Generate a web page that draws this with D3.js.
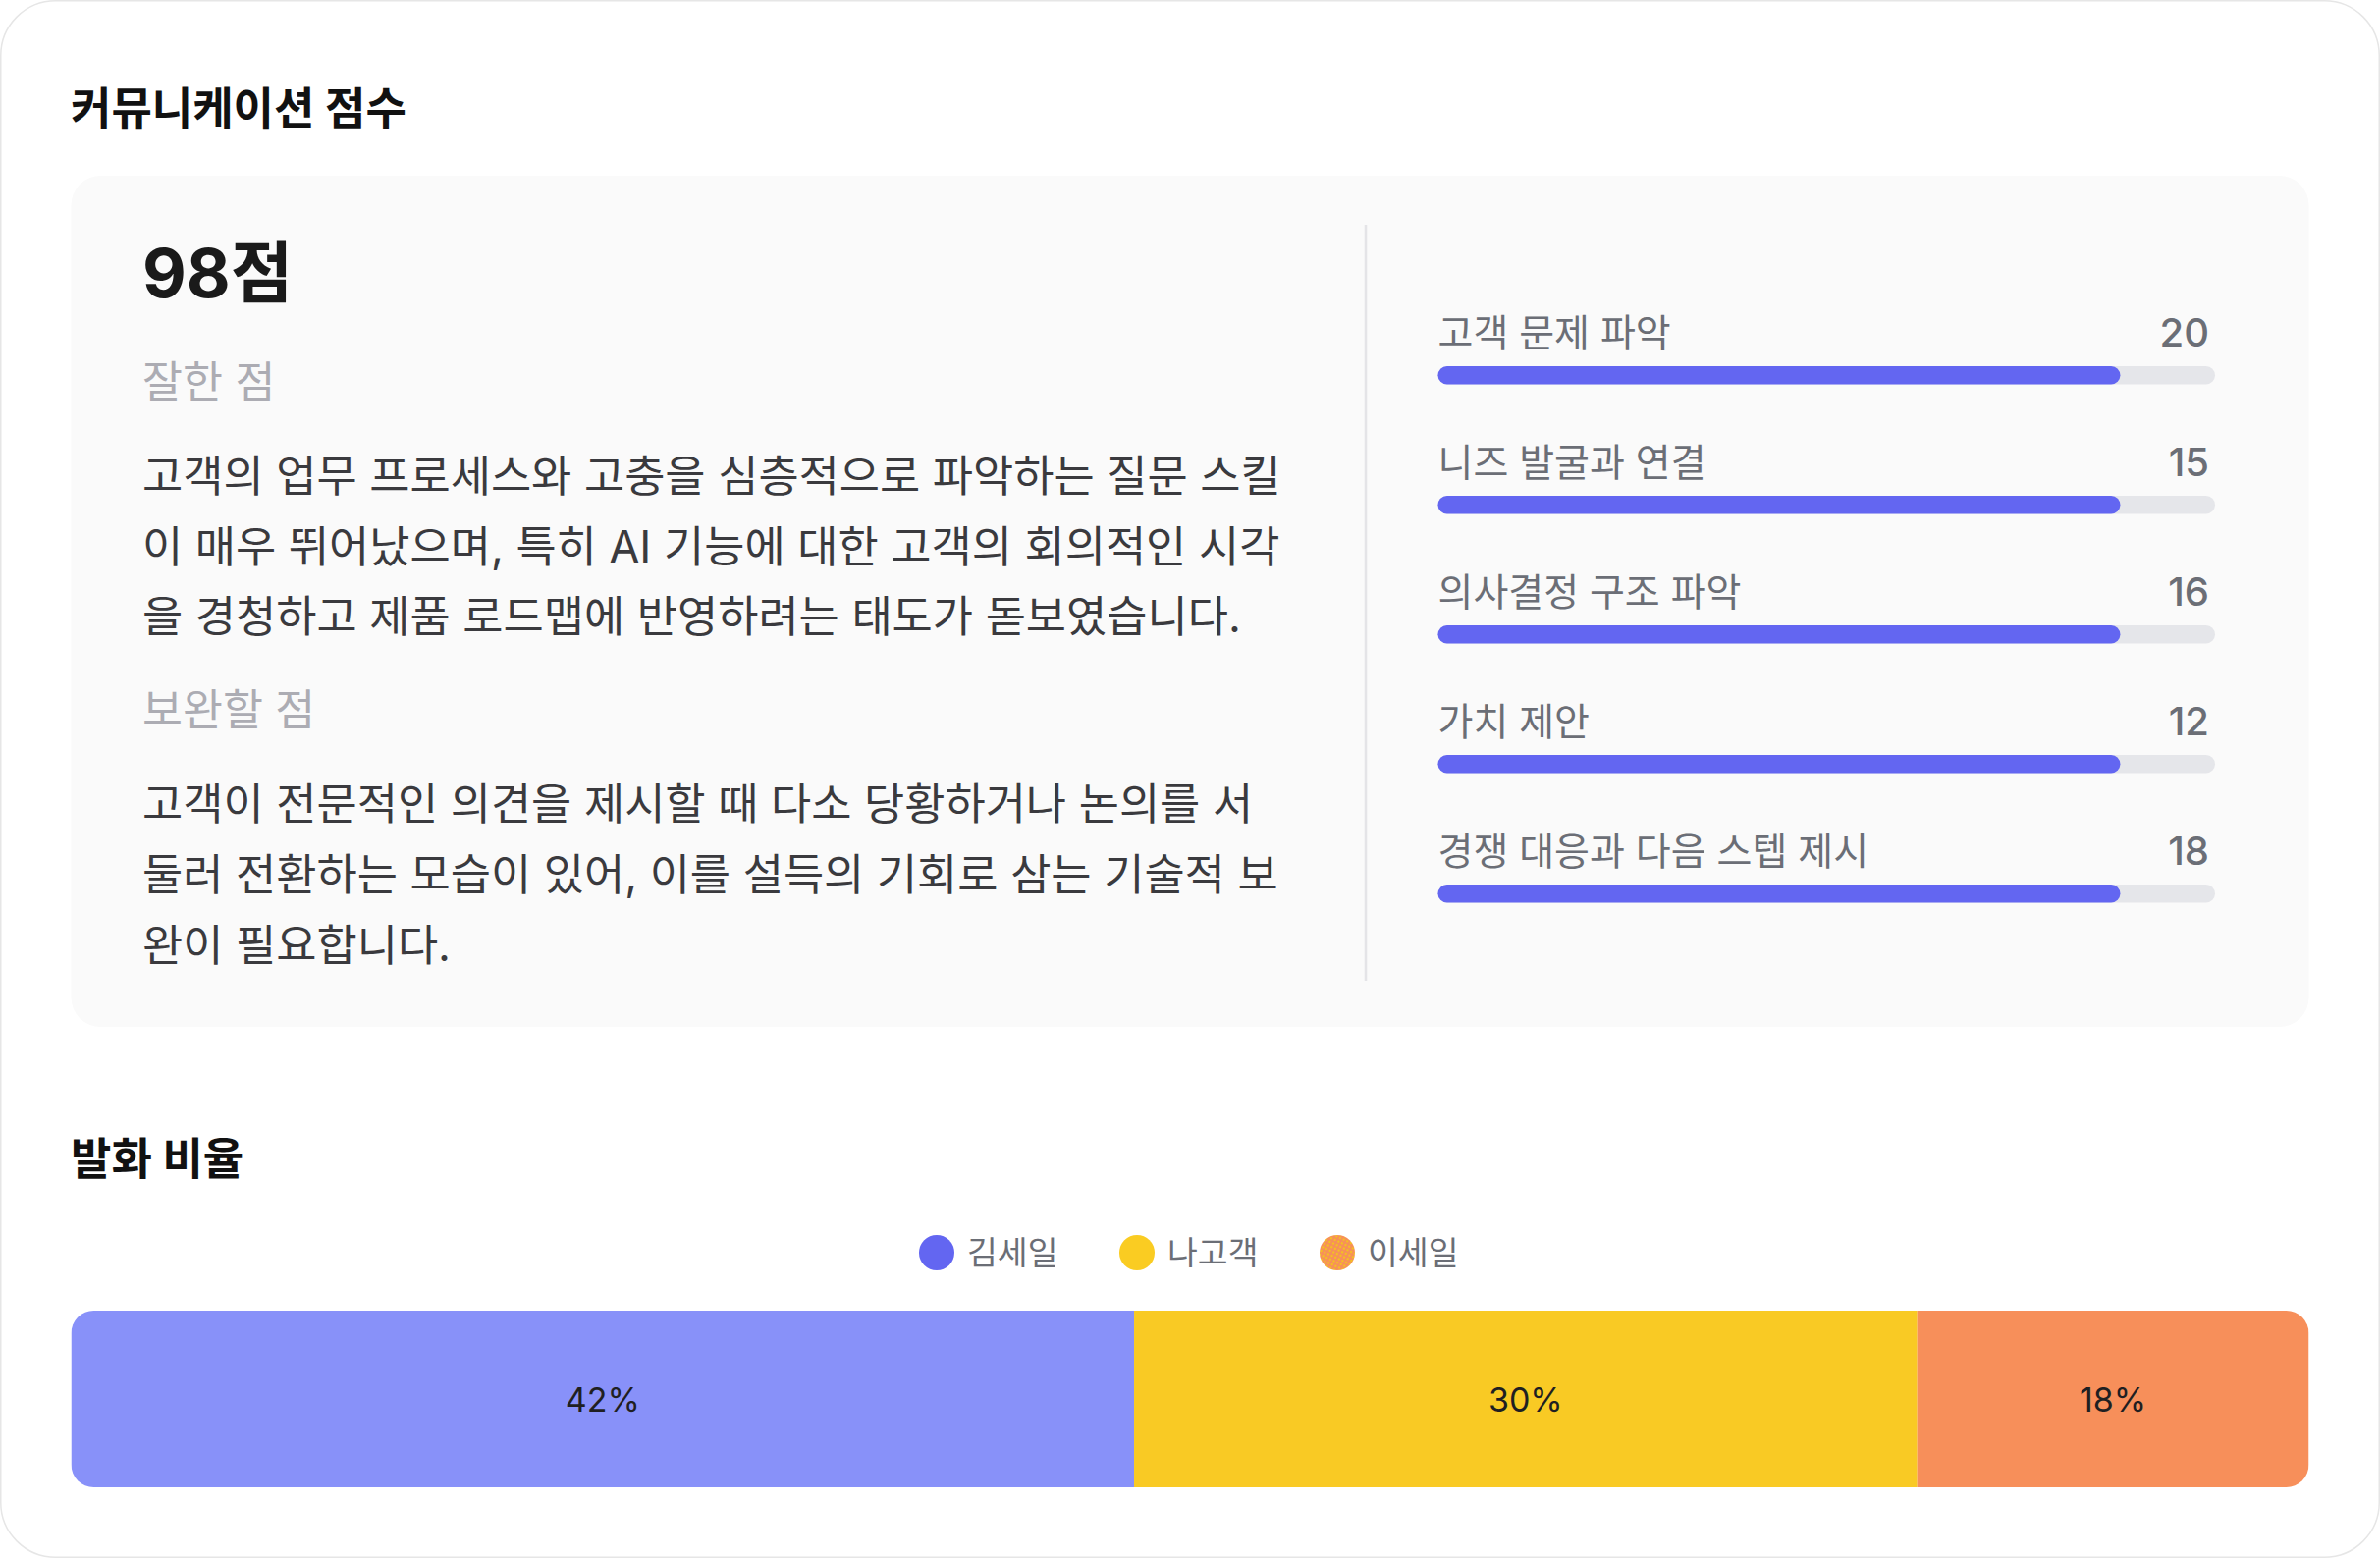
<!DOCTYPE html>
<html lang="ko">
<head>
<meta charset="utf-8">
<script src="https://cdn.jsdelivr.net/npm/d3@7/dist/d3.min.js"></script>
<style>
  html, body { margin: 0; padding: 0; background: #ffffff; }
  svg { display: block; }
  text { font-family: "Inter", "Noto Sans CJK KR", "Noto Sans", sans-serif; }
</style>
</head>
<body>
<div id="chart"></div>
<script>
// ---------------- data ----------------
const sectionTitles = ["커뮤니케이션 점수", "발화 비율"];
const totalScoreLabel = "98점";
const goodHeading = "잘한 점";
const goodLines = [
  "고객의 업무 프로세스와 고충을 심층적으로 파악하는 질문 스킬",
  "이 매우 뛰어났으며, 특히 AI 기능에 대한 고객의 회의적인 시각",
  "을 경청하고 제품 로드맵에 반영하려는 태도가 돋보였습니다."
];
const improveHeading = "보완할 점";
const improveLines = [
  "고객이 전문적인 의견을 제시할 때 다소 당황하거나 논의를 서",
  "둘러 전환하는 모습이 있어, 이를 설득의 기회로 삼는 기술적 보",
  "완이 필요합니다."
];
const scoreCategories = ["고객 문제 파악", "니즈 발굴과 연결", "의사결정 구조 파악", "가치 제안", "경쟁 대응과 다음 스텝 제시"];
const scoreValues = [20, 15, 16, 12, 18];
// filled share of each progress track (percent of track)
const scoreBarFill = [87.8, 87.8, 87.8, 87.8, 87.8];
const scoreTrackDomain = [0, 100];

const speakers = ["김세일", "나고객", "이세일"];
const talkPercent = [42, 30, 18];
// visual width share of each segment
const talkBarShare = [47.5, 35, 17.5];
const speakerColors = ["#8891f9", "#f9ca24", "#f78f5a"];
const legendColors = ["#6366f1", "#facc22", "url(#decal)"];

// ---------------- layout ----------------
const W = 2424, H = 1587;

const svg = d3.select("#chart").append("svg")
  .attr("width", W).attr("height", H)
  .attr("viewBox", `0 0 ${W} ${H}`);

const defs = svg.append("defs");
const pat = defs.append("pattern")
  .attr("id", "decal").attr("patternUnits", "userSpaceOnUse")
  .attr("width", 4).attr("height", 4)
  .attr("patternTransform", "rotate(25)");
pat.append("rect").attr("width", 4).attr("height", 4).attr("fill", "#f78f5a");
pat.append("circle").attr("cx", 2).attr("cy", 2).attr("r", 1.2).attr("fill", "#f3c21e");

// outer card
svg.append("rect")
  .attr("x", 0.75).attr("y", 0.75).attr("width", W - 1.5).attr("height", H - 1.5)
  .attr("rx", 56).attr("fill", "#ffffff").attr("stroke", "#e6e6e6").attr("stroke-width", 1.5);

// section title 1
svg.append("text")
  .attr("x", 72).attr("y", 110).attr("dominant-baseline", "central")
  .attr("font-size", 45).attr("font-weight", 700).attr("fill", "#111111")
  .text(sectionTitles[0]);

// grey panel
svg.append("rect")
  .attr("x", 72.5).attr("y", 179).attr("width", 2279).attr("height", 867)
  .attr("rx", 30).attr("fill", "#fafafa");

// left column
const left = svg.append("g");
left.append("text")
  .attr("x", 145).attr("y", 278).attr("dominant-baseline", "central")
  .attr("font-size", 69).attr("font-weight", 700).attr("fill", "#1a1a1a")
  .text(totalScoreLabel);

left.append("text")
  .attr("x", 145).attr("y", 389).attr("dominant-baseline", "central")
  .attr("font-size", 44.5).attr("fill", "#acacb3")
  .text(goodHeading);

const lineY1 = d3.scalePoint().domain(d3.range(goodLines.length)).range([485, 628]);
left.selectAll("text.good").data(goodLines).join("text")
  .attr("class", "good")
  .attr("x", 145).attr("y", (d, i) => lineY1(i)).attr("dominant-baseline", "central")
  .attr("font-size", 44.8).attr("fill", "#3a3a3e")
  .text(d => d);

left.append("text")
  .attr("x", 145).attr("y", 723).attr("dominant-baseline", "central")
  .attr("font-size", 44.5).attr("fill", "#acacb3")
  .text(improveHeading);

const lineY2 = d3.scalePoint().domain(d3.range(improveLines.length)).range([819, 963]);
left.selectAll("text.improve").data(improveLines).join("text")
  .attr("class", "improve")
  .attr("x", 145).attr("y", (d, i) => lineY2(i)).attr("dominant-baseline", "central")
  .attr("font-size", 44.8).attr("fill", "#3a3a3e")
  .text(d => d);

// divider
svg.append("line")
  .attr("x1", 1391).attr("x2", 1391).attr("y1", 229).attr("y2", 999)
  .attr("stroke", "#e4e4e7").attr("stroke-width", 2.5);

// right column: score bars
const xTrack = d3.scaleLinear().domain(scoreTrackDomain).range([1464.5, 2256]);
const yRow = d3.scalePoint().domain(scoreCategories).range([338, 866]);
const barH = 18.5;

const rows = svg.append("g").selectAll("g.row")
  .data(scoreCategories.map((c, i) => ({ c, v: scoreValues[i], f: scoreBarFill[i] })))
  .join("g").attr("class", "row");

rows.append("text")
  .attr("x", xTrack(0)).attr("y", d => yRow(d.c)).attr("dominant-baseline", "central")
  .attr("font-size", 39).attr("fill", "#6b6e76")
  .text(d => d.c);

rows.append("text")
  .attr("x", 2250).attr("y", d => yRow(d.c)).attr("dominant-baseline", "central")
  .attr("text-anchor", "end")
  .attr("font-size", 40).attr("font-weight", 500).attr("fill", "#6b6e76")
  .text(d => d.v);

rows.append("rect")
  .attr("x", xTrack(0)).attr("y", d => yRow(d.c) + 35)
  .attr("width", xTrack(scoreTrackDomain[1]) - xTrack(0)).attr("height", barH)
  .attr("rx", barH / 2).attr("fill", "#e5e6ea");

rows.append("rect")
  .attr("x", xTrack(0)).attr("y", d => yRow(d.c) + 35)
  .attr("width", d => xTrack(d.f) - xTrack(0)).attr("height", barH)
  .attr("rx", barH / 2).attr("fill", "#6366f1");

// section title 2
svg.append("text")
  .attr("x", 72).attr("y", 1180).attr("dominant-baseline", "central")
  .attr("font-size", 45).attr("font-weight", 700).attr("fill", "#111111")
  .text(sectionTitles[1]);

// legend
const xLegend = d3.scalePoint().domain(speakers).range([954, 1362]);
const legend = svg.append("g").selectAll("g.leg").data(speakers).join("g").attr("class", "leg");
legend.append("circle")
  .attr("cx", d => xLegend(d)).attr("cy", 1276).attr("r", 18)
  .attr("fill", (d, i) => legendColors[i]);
legend.append("text")
  .attr("x", d => xLegend(d) + 31).attr("y", 1276).attr("dominant-baseline", "central")
  .attr("font-size", 33.5).attr("fill", "#6b6e76")
  .text(d => d);

// stacked bar
const barX0 = 72.5, barX1 = 2351.5, barTop = 1335, barBottom = 1515;
const xShare = d3.scaleLinear().domain([0, d3.sum(talkBarShare)]).range([barX0, barX1]);
const cum = d3.cumsum(talkBarShare);
const segs = speakers.map((s, i) => ({
  s, pct: talkPercent[i], start: i === 0 ? 0 : cum[i - 1], end: cum[i], color: speakerColors[i]
}));

defs.append("clipPath").attr("id", "barClip")
  .append("rect")
  .attr("x", barX0).attr("y", barTop).attr("width", barX1 - barX0).attr("height", barBottom - barTop)
  .attr("rx", 23);

const bar = svg.append("g").attr("clip-path", "url(#barClip)");
bar.selectAll("rect").data(segs).join("rect")
  .attr("x", d => xShare(d.start)).attr("y", barTop)
  .attr("width", d => xShare(d.end) - xShare(d.start)).attr("height", barBottom - barTop)
  .attr("fill", d => d.color);

svg.append("g").selectAll("text").data(segs).join("text")
  .attr("x", d => (xShare(d.start) + xShare(d.end)) / 2)
  .attr("y", (barTop + barBottom) / 2).attr("dominant-baseline", "central")
  .attr("text-anchor", "middle")
  .attr("font-size", 34).attr("fill", "#1f1f22")
  .text(d => d.pct + "%");
</script>
</body>
</html>
